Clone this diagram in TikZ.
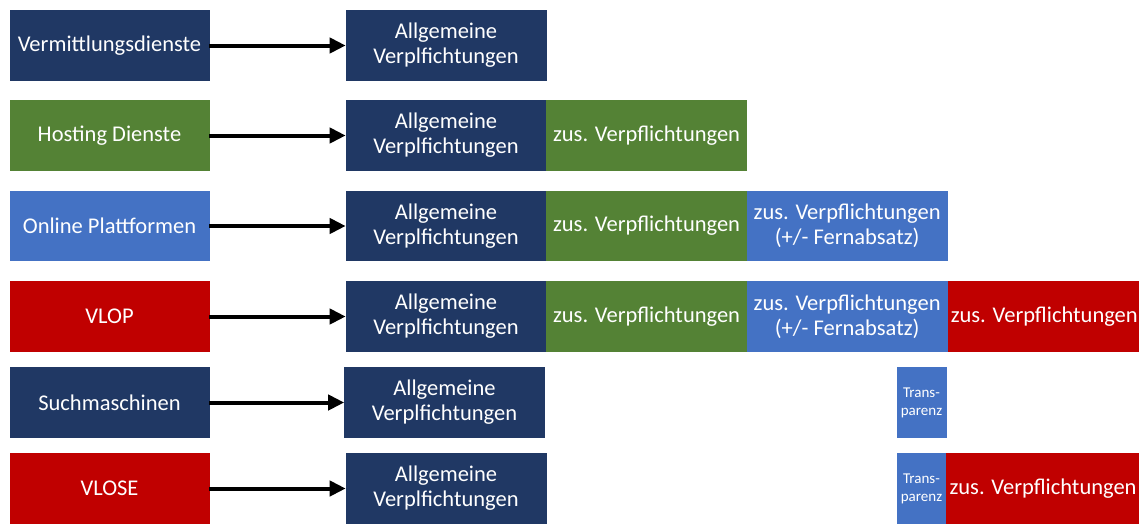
\documentclass[tikz,border=0pt]{standalone}
\usepackage{fontspec}
\setmainfont{Carlito}
\usetikzlibrary{arrows.meta}
\definecolor{navy}{HTML}{203864}
\definecolor{dgreen}{HTML}{548235}
\definecolor{lblue}{HTML}{4472C4}
\definecolor{dred}{HTML}{C00000}
\tikzset{
  box/.style={rectangle, inner sep=0pt, minimum height=69.5pt, text=white, align=center,
    line width=0.6pt, font=\fontsize{22.5}{25}\selectfont},
  cnavy/.style={fill=navy, draw=navy},
  cgreen/.style={fill=dgreen, draw=dgreen},
  cblue/.style={fill=lblue, draw=lblue},
  cred/.style={fill=dred, draw=dred},
  srcbox/.style={box, minimum width=199pt},
  obox/.style={box, minimum width=200pt, cnavy},
  zbox/.style={box, minimum width=200pt},
  endbox/.style={box, minimum width=193pt, cred},
  tbox/.style={box, minimum width=49pt, cblue, font=\fontsize{15}{18}\selectfont},
  conn/.style={line width=4pt, -{Triangle[length=16pt,width=15pt]}}
}
\begin{document}
\begin{tikzpicture}[x=1pt,y=-1pt]
\useasboundingbox (0,0) rectangle (1139,523);
% row 1
\node[srcbox, cnavy] (s1) at (109.5,45.5) {Vermittlungsdienste};
\node[obox] (a1) at (446,45.5) {Allgemeine\\Verplfichtungen};
% row 2
\node[srcbox, cgreen] (s2) at (109.5,135.5) {Hosting Dienste};
\node[obox] (a2) at (446,135.5) {Allgemeine\\Verplfichtungen};
\node[zbox, cgreen, anchor=west] (g2) at (a2.east) {zus. Verpflichtungen};
% row 3
\node[srcbox, cblue] (s3) at (109.5,226) {Online Plattformen};
\node[obox] (a3) at (446,226) {Allgemeine\\Verplfichtungen};
\node[zbox, cgreen, anchor=west] (g3) at (a3.east) {zus. Verpflichtungen};
\node[zbox, cblue, anchor=west] (b3) at (g3.east) {zus. Verpflichtungen\\(+/- Fernabsatz)};
% row 4
\node[srcbox, cred] (s4) at (109.5,316.5) {VLOP};
\node[obox] (a4) at (446,316.5) {Allgemeine\\Verplfichtungen};
\node[zbox, cgreen, anchor=west] (g4) at (a4.east) {zus. Verpflichtungen};
\node[zbox, cblue, anchor=west] (b4) at (g4.east) {zus. Verpflichtungen\\(+/- Fernabsatz)};
\node[endbox, anchor=west] (r4) at (b4.east) {zus. Verpflichtungen};
% row 5
\node[srcbox, cnavy] (s5) at (109.5,402.5) {Suchmaschinen};
\node[obox] (a5) at (444.5,402.5) {Allgemeine\\Verplfichtungen};
\node[tbox] (t5) at (921.5,402.5) {Trans-\\parenz};
% row 6
\node[srcbox, cred] (s6) at (109.5,488.5) {VLOSE};
\node[obox] (a6) at (446,488.5) {Allgemeine\\Verplfichtungen};
\node[tbox] (t6) at (921.5,488.5) {Trans-\\parenz};
\node[endbox, anchor=west] (r6) at (t6.east) {zus. Verpflichtungen};
% connectors
\foreach \i in {1,...,6} {
  \draw[conn] (s\i.east) -- (a\i.west);
}
\end{tikzpicture}
\end{document}
